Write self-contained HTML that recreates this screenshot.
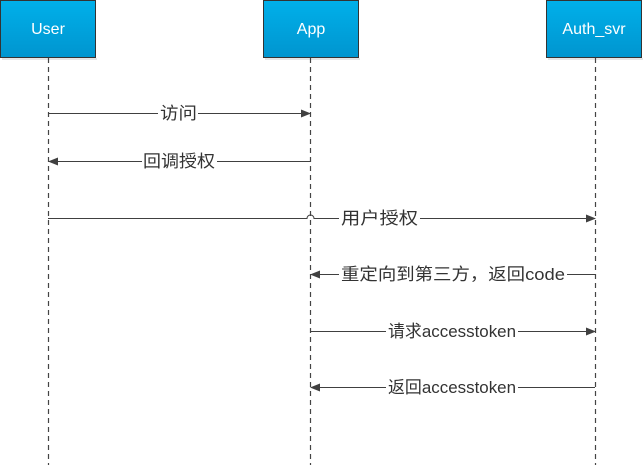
<!DOCTYPE html>
<html><head><meta charset="utf-8"><style>
html,body{margin:0;padding:0;background:#fff;width:644px;height:465px;overflow:hidden}
text{font-family:"Liberation Sans","Noto Sans CJK SC",sans-serif;}
</style></head><body>
<svg width="644" height="465" viewBox="0 0 644 465" xmlns="http://www.w3.org/2000/svg">
<defs>
<linearGradient id="g" x1="0" y1="0" x2="0" y2="1">
<stop offset="0" stop-color="#00b0ea"/><stop offset="1" stop-color="#0095cf"/>
</linearGradient>
<marker id="a" markerWidth="10" markerHeight="8" refX="9" refY="4" orient="auto" markerUnits="userSpaceOnUse">
<path d="M0,0 L10,4 L0,8 z" fill="#404040"/></marker>
</defs>
<g fill="#e6e6e6">
<rect x="2" y="58" width="95" height="2"/><rect x="265" y="58" width="95" height="2"/><rect x="548" y="58" width="95" height="2"/>
</g>
<g fill="url(#g)" stroke="#333" stroke-width="1">
<rect x="0.5" y="0.5" width="95" height="57"/>
<rect x="263.5" y="0.5" width="95" height="57"/>
<rect x="546.5" y="0.5" width="95" height="57"/>
</g>
<g fill="#fff" font-size="16" text-anchor="middle">
<text x="48" y="34">User</text><text x="311" y="34">App</text><text x="594" y="34">Auth_svr</text>
</g>
<g stroke="#444" stroke-width="1.2" stroke-dasharray="5,4">
<line x1="48.5" y1="58" x2="48.5" y2="465"/>
<line x1="310.5" y1="58" x2="310.5" y2="465"/>
<line x1="595.5" y1="58" x2="595.5" y2="465"/>
</g>
<g stroke="#404040" stroke-width="1" fill="none">
<line x1="48" y1="113.5" x2="158" y2="113.5"/><line x1="198" y1="113.5" x2="310" y2="113.5" marker-end="url(#a)"/>
<line x1="310" y1="161.5" x2="217" y2="161.5"/><line x1="142" y1="161.5" x2="49" y2="161.5" marker-end="url(#a)"/>
<path d="M48,218.5 H307 A3.5,3.5 0 0 1 314,218.5 H339"/><line x1="420" y1="218.5" x2="595" y2="218.5" marker-end="url(#a)"/>
<line x1="595" y1="274.5" x2="567" y2="274.5"/><line x1="339" y1="274.5" x2="311" y2="274.5" marker-end="url(#a)"/>
<line x1="310" y1="331.5" x2="386" y2="331.5"/><line x1="518" y1="331.5" x2="595" y2="331.5" marker-end="url(#a)"/>
<line x1="595" y1="387.5" x2="518" y2="387.5"/><line x1="386" y1="387.5" x2="311" y2="387.5" marker-end="url(#a)"/>
</g>
<g fill="#333" font-size="17" lengthAdjust="spacingAndGlyphs">
<text x="160" y="119" textLength="37" lengthAdjust="spacingAndGlyphs">访问</text>
<text x="143" y="167" textLength="72" lengthAdjust="spacingAndGlyphs">回调授权</text>
<text x="341" y="224" textLength="77" lengthAdjust="spacingAndGlyphs">用户授权</text>
<text x="341" y="280" textLength="224" lengthAdjust="spacingAndGlyphs">重定向到第三方，返回code</text>
<text x="388" y="337" textLength="128" lengthAdjust="spacingAndGlyphs">请求accesstoken</text>
<text x="388" y="393" textLength="128" lengthAdjust="spacingAndGlyphs">返回accesstoken</text>
</g>
</svg>
</body></html>
